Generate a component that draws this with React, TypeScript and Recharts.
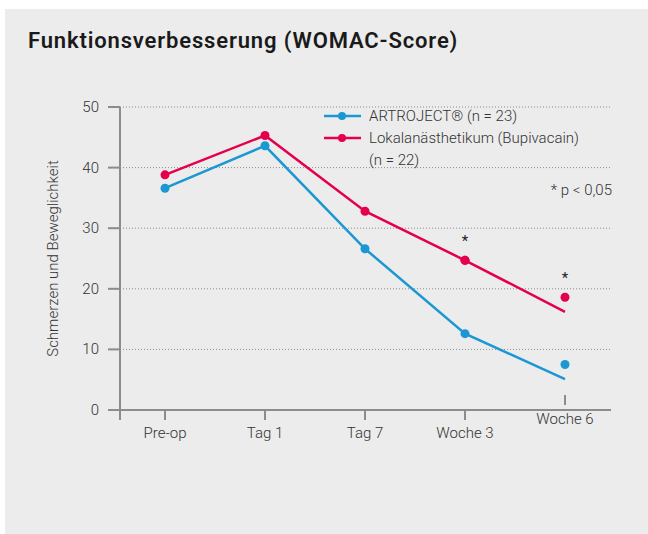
import React from 'react'
import { LineChart, Line, XAxis, YAxis, CartesianGrid, ReferenceLine, Legend, LabelList } from 'recharts'

// time points
const categories = ['Pre-op', 'Tag 1', 'Tag 7', 'Woche 3', 'Woche 6']
// the printed lines end lower at Woche 6 than the plotted dots
const artroLine = [36.6, 43.6, 26.6, 12.6, 5.1]
const artroDots = [36.6, 43.6, 26.6, 12.6, 7.5]
const bupiLine = [38.8, 45.3, 32.8, 24.7, 16.2]
const bupiDots = [38.8, 45.3, 32.8, 24.7, 18.6]
const significance = ['', '', '', '*', '*']
const yTicks = [0, 10, 20, 30, 40, 50]

const legendItems = [
  { name: 'ARTROJECT® (n = 23)', extra: '', color: '#1b98d3' },
  { name: 'Lokalanästhetikum (Bupivacain)', extra: '(n = 22)', color: '#e4004b' },
]

const BLUE = '#1b98d3'
const RED = '#e4004b'
const AXIS = '#8c8c8c'
const TEXT = '#333'
const FONT = 'Roboto, "Noto Sans", sans-serif'

const data = categories.map((c, i) => ({
  idx: i,
  name: c,
  artroLine: artroLine[i],
  artroDot: i < 4 ? null : artroDots[i],
  bupiLine: bupiLine[i],
  bupiDot: i < 3 ? null : bupiDots[i],
  sig: significance[i],
}))

const XTick = ({ x, y, payload }: any) => {
  const last = payload.value === categories.length - 1
  const off = last ? -15 : 0
  return (
    <g>
      <line x1={x} x2={x} y1={y + off} y2={y + off + 10} stroke={AXIS} strokeWidth={2} />
      <text x={x} y={last ? y + 14 : y + 28} textAnchor="middle" fill={TEXT} fontSize={15} fontWeight={300} fontFamily={FONT}>
        {categories[payload.value]}
      </text>
    </g>
  )
}

const YTick = ({ x, y, payload }: any) => (
  <g>
    <line x1={x + 9} x2={x + 21} y1={y} y2={y} stroke={AXIS} strokeWidth={2} />
    <text x={x} y={y + 5} textAnchor="end" fill={TEXT} fontSize={15} fontWeight={300} fontFamily={FONT}>
      {payload.value}
    </text>
  </g>
)

const YLabel = ({ viewBox }: any) => {
  const cx = viewBox.x + 5
  const cy = viewBox.y + viewBox.height / 2
  return (
    <text x={cx} y={cy} transform={`rotate(-90 ${cx} ${cy})`} textAnchor="middle" dominantBaseline="central"
      fill={TEXT} fontSize={15} fontWeight={300} fontFamily={FONT}>
      Schmerzen und Beweglichkeit
    </text>
  )
}

const LegendBox = () => (
  <div style={{ fontFamily: FONT, fontSize: 15, fontWeight: 300, color: TEXT, lineHeight: '22px' }}>
    {legendItems.map((it) => (
      <div key={it.name}>
        <div style={{ display: 'flex', alignItems: 'center' }}>
          <svg width={45} height={22} style={{ flex: 'none' }}>
            <line x1={0} x2={37} y1={11} y2={11} stroke={it.color} strokeWidth={2.5} />
            <circle cx={18} cy={11} r={4} fill={it.color} />
          </svg>
          <span>{it.name}</span>
        </div>
        {it.extra && <div style={{ paddingLeft: 45 }}>{it.extra}</div>}
      </div>
    ))}
  </div>
)

const Star = ({ x, y, value }: any) =>
  value ? (
    <text x={x} y={y - 14} textAnchor="middle" fill="#222" fontSize={15} fontFamily={FONT}>
      {value}
    </text>
  ) : null

export default function App() {
  return (
    <div style={{ position: 'absolute', left: 5, top: 9, width: 643, height: 525, background: '#ececec' }}>
      <div style={{ position: 'absolute', left: 23, top: 19, fontFamily: FONT, fontWeight: 600, fontSize: 22, letterSpacing: 0.85, color: '#1a1a1a' }}>
        Funktionsverbesserung (WOMAC-Score)
      </div>
      <div style={{ position: 'absolute', right: 36, top: 170, fontFamily: FONT, fontWeight: 300, fontSize: 15, color: TEXT, lineHeight: '22px' }}>
        * p &lt; 0,05
      </div>
      <LineChart width={643} height={525} data={data} margin={{ top: 98, right: 37, left: 43, bottom: 94 }}>
        <CartesianGrid horizontal vertical={false} stroke={AXIS} strokeDasharray="1 2" />
        <XAxis
          dataKey="idx"
          type="number"
          domain={[-0.57, 4.46]}
          allowDataOverflow
          ticks={[0, 1, 2, 3, 4]}
          interval={0}
          height={30}
          stroke={AXIS}
          strokeWidth={2}
          tickLine={false}
          tickSize={0}
          tickMargin={0}
          tick={<XTick />}
        />
        <YAxis
          domain={[0, 50]}
          ticks={yTicks}
          width={60}
          axisLine={false}
          tickLine={false}
          tickSize={0}
          tickMargin={9}
          tick={<YTick />}
          label={<YLabel />}
        />
        <ReferenceLine
          segment={[{ x: -0.45, y: 50 }, { x: -0.45, y: -1.65 }]}
          stroke={AXIS}
          strokeWidth={2}
          ifOverflow="visible"
        />
        <Legend
          layout="vertical"
          verticalAlign="middle"
          align="center"
          content={<LegendBox />}
          wrapperStyle={{ position: 'absolute', left: 319, top: 96, width: 'auto' }}
        />
        <Line dataKey="artroLine" name="ARTROJECT® (n = 23)" stroke={BLUE} strokeWidth={2.5}
          dot={(p: any) => (p.index < 4 ? <circle key={p.index} cx={p.cx} cy={p.cy} r={4.5} fill={BLUE} /> : <g key={p.index} />)}
          activeDot={false} isAnimationActive={false} />
        <Line dataKey="bupiLine" name="Lokalanästhetikum (Bupivacain)" stroke={RED} strokeWidth={2.5}
          dot={(p: any) => (p.index < 4 ? <circle key={p.index} cx={p.cx} cy={p.cy} r={4.5} fill={RED} /> : <g key={p.index} />)}
          activeDot={false} isAnimationActive={false} />
        <Line dataKey="artroDot" stroke="none" legendType="none"
          dot={{ r: 4.5, fill: BLUE, stroke: 'none' }} activeDot={false} isAnimationActive={false} />
        <Line dataKey="bupiDot" stroke="none" legendType="none"
          dot={{ r: 4.5, fill: RED, stroke: 'none' }} activeDot={false} isAnimationActive={false}>
          <LabelList dataKey="sig" content={<Star />} />
        </Line>
      </LineChart>
    </div>
  )
}
